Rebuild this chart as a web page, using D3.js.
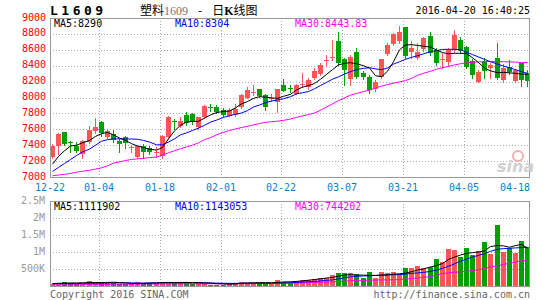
<!DOCTYPE html>
<html>
<head>
<meta charset="utf-8">
<script src="https://cdn.jsdelivr.net/npm/d3@7"></script>
<style>
body { margin: 0; background: #fff; }
text { font-family: "DejaVu Sans Mono", monospace; font-size: 10px; }
</style>
</head>
<body>
<svg id="chart" width="545" height="300"></svg>
<script>
// trading days
const dates = [
  "12-22","12-23","12-24","12-25","12-28","12-29","12-30","12-31",
  "01-04","01-05","01-06","01-07","01-08","01-11","01-12","01-13","01-14","01-15",
  "01-18","01-19","01-20","01-21","01-22","01-25","01-26","01-27","01-28","01-29",
  "02-01","02-02","02-03","02-04","02-05","02-15","02-16","02-17","02-18","02-19",
  "02-22","02-23","02-24","02-25","02-26","02-29","03-01","03-02","03-03","03-04",
  "03-07","03-08","03-09","03-10","03-11","03-14","03-15","03-16","03-17","03-18",
  "03-21","03-22","03-23","03-24","03-25","03-28","03-29","03-30","03-31","04-01",
  "04-05","04-06","04-07","04-08","04-11","04-12","04-13","04-14","04-15","04-18","04-19"
];

const openP = [7255,7394,7562,7440,7394,7290,7440,7578,7692,7507,7537,7453,7503,7360,7255,7390,7360,7305,7264,7500,
  7700,7641,7780,7795,7633,7760,7880,7880,7843,7771,7780,7880,7995,8055,8107,8031,7980,7947,8152,8120,
  8050,8165,8136,8241,8290,8465,8495,8714,8480,8233,8576,8304,8258,8110,8260,8545,8675,8711,8891,8576,
  8500,8606,8775,8600,8478,8447,8595,8720,8631,8463,8199,8463,8367,8493,8220,8388,8207,8430,8304];
const highP = [7411,7553,7570,7450,7444,7465,7645,7738,7700,7600,7591,7478,7520,7402,7400,7419,7394,7380,7530,7765,
  7735,7751,7820,7800,7760,7905,7914,7905,7864,7872,7914,8048,8136,8157,8110,8048,8040,8110,8229,8160,
  8165,8304,8240,8370,8430,8530,8723,8828,8500,8540,8618,8330,8280,8215,8490,8680,8810,8900,8891,8711,
  8680,8760,8830,8620,8555,8620,8845,8760,8650,8480,8340,8500,8430,8682,8420,8470,8360,8440,8350];
const lowP = [7239,7289,7400,7320,7310,7240,7430,7550,7520,7490,7436,7318,7368,7310,7240,7235,7293,7255,7245,7490,
  7600,7630,7660,7670,7600,7745,7834,7810,7767,7767,7771,7872,7989,8031,8006,7843,7960,7821,8080,8070,
  8040,8136,8110,8230,8280,8400,8472,8410,8157,8160,8240,8230,8053,8080,8250,8530,8660,8690,8500,8500,
  8480,8590,8540,8410,8375,8400,8570,8560,8370,8250,8190,8250,8250,8233,8200,8300,8190,8150,8140];
const closeP = [7394,7537,7411,7430,7327,7450,7591,7633,7553,7578,7461,7419,7428,7372,7394,7318,7310,7318,7516,7750,
  7690,7704,7675,7688,7751,7897,7870,7817,7780,7843,7855,8031,8094,8070,8014,7885,7995,8103,8085,8110,
  8155,8175,8220,8333,8409,8475,8505,8435,8346,8513,8262,8254,8100,8199,8485,8665,8795,8820,8526,8626,
  8576,8745,8566,8430,8484,8595,8786,8587,8387,8283,8325,8337,8409,8240,8367,8325,8346,8220,8210];

const ma5 = [7160,7260,7330,7390,7400,7430,7460,7510,7545,7560,7530,7490,7460,7420,7390,7370,7350,7338,7370,7480,
  7580,7650,7690,7700,7700,7740,7780,7810,7825,7830,7870,7920,7950,7990,8010,8005,7995,7990,8015,8040,
  8095,8130,8150,8175,8230,8290,8350,8410,8430,8438,8425,8400,8370,8274,8262,8330,8450,8600,8660,8665,
  8655,8645,8635,8597,8565,8550,8556,8556,8555,8500,8440,8370,8335,8312,8316,8310,8304,8295,8290];
const ma10 = [7070,7120,7170,7220,7270,7315,7350,7400,7450,7470,7480,7480,7478,7478,7475,7460,7440,7405,7405,7440,
  7480,7530,7555,7585,7615,7650,7690,7715,7750,7770,7790,7805,7835,7880,7905,7935,7955,7970,7985,8010,
  8045,8060,8075,8110,8150,8190,8230,8260,8295,8325,8350,8367,8375,8360,8350,8370,8420,8450,8480,8505,
  8525,8550,8575,8590,8605,8606,8606,8600,8570,8540,8510,8480,8450,8420,8395,8375,8350,8325,8304];
const ma30 = [7015,7025,7034,7045,7060,7072,7085,7100,7115,7140,7175,7190,7208,7220,7228,7235,7245,7252,7275,7305,
  7330,7355,7378,7400,7430,7470,7495,7530,7562,7585,7605,7622,7638,7655,7672,7688,7695,7702,7712,7730,
  7750,7768,7785,7805,7840,7880,7920,7960,7995,8030,8050,8075,8092,8120,8143,8162,8180,8195,8215,8240,
  8278,8305,8330,8355,8375,8390,8410,8425,8435,8442,8448,8450,8452,8452,8450,8448,8445,8440,8440];

const volume = [60,90,130,100,60,50,160,130,130,80,100,60,50,50,110,100,100,90,130,100,
  100,110,120,60,100,100,40,40,30,70,90,130,90,90,100,100,70,170,110,100,
  150,180,180,210,240,240,330,390,390,390,360,240,420,240,420,380,410,340,540,540,
  590,540,570,800,700,1100,1070,840,1130,900,1040,1290,930,1780,1000,1120,980,1320,1140].map(v => v * 1000);
const vma5 = [70,80,85,90,90,95,100,100,100,105,110,100,90,80,70,75,85,90,100,105,
  100,105,105,100,100,95,85,70,60,55,60,80,90,95,100,100,95,105,120,125,
  135,150,170,190,210,235,250,290,320,335,320,320,315,310,320,330,345,360,380,420,
  470,500,560,600,660,780,850,910,960,980,1000,1030,1160,1190,1180,1140,1190,1220,1112].map(v => v * 1000);
const vma10 = [65,68,70,72,75,78,80,82,85,88,90,92,92,90,88,88,90,92,95,95,
  95,95,95,95,92,90,88,85,80,78,78,80,82,82,80,80,82,85,90,95,
  105,115,125,135,150,165,180,210,240,270,285,295,300,310,318,325,330,335,350,370,
  385,400,430,470,520,580,650,730,790,850,900,950,1020,1080,1100,1110,1120,1130,1143].map(v => v * 1000);
const vma30 = [30,32,34,36,38,40,42,44,46,48,50,52,54,55,56,57,58,59,60,61,
  62,63,64,65,66,67,68,68,68,68,69,70,71,72,73,74,76,78,80,85,
  90,95,100,105,112,118,125,135,145,155,162,168,172,175,178,180,183,190,205,218,
  235,255,275,320,365,390,405,416,435,455,480,515,560,595,630,668,705,740,744].map(v => v * 1000);

const priceTicks = [7000,7200,7400,7600,7800,8000,8200,8400,8600,8800,9000];
const volTicks = [500000,1000000,1500000,2000000,2500000];
const volTickLabels = ["500K","1M","1.5M","2M","2.5M"];
const dateTicks = ["12-22","01-04","01-18","02-01","02-22","03-07","03-21","04-05","04-18"];
const gridDates = ["01-04","01-18","02-01","02-22","03-07","03-21","04-05"];

const priceLegend = [{ t: "MA5:8290", c: "#000" }, { t: "MA10:8304", c: "#0000ff" }, { t: "MA30:8443.83", c: "#ff00ff" }];
const volLegend = [{ t: "MA5:1111902", c: "#000" }, { t: "MA10:1143053", c: "#0000ff" }, { t: "MA30:744202", c: "#ff00ff" }];

const up = "#ff5555", down = "#00a000";
const left = 50, right = 530;
const pTop = 18, pBottom = 177, vTop = 201, vBottom = 286;

const svg = d3.select("#chart");

// scales
const x = d3.scaleBand().domain(dates).range([left, right]).paddingInner(0.18).paddingOuter(0);
const y = d3.scaleLinear().domain([7000, 9000]).range([pBottom, pTop]);
const yv = d3.scaleLinear().domain([0, 2500000]).range([vBottom, vTop]);
const bx = d => Math.round(x(d));
const cx = d => Math.round(x(d)) + 2.5;

// grids
function grid(yScale, ticks, y0, y1) {
  const g = svg.append("g").attr("stroke", "#aaa").attr("stroke-dasharray", "1,2").attr("shape-rendering", "crispEdges");
  g.selectAll(".h").data(ticks).enter().append("line")
    .attr("x1", left).attr("x2", right)
    .attr("y1", d => Math.round(yScale(d)) + 0.5).attr("y2", d => Math.round(yScale(d)) + 0.5);
  g.selectAll(".v").data(gridDates).enter().append("line")
    .attr("x1", d => bx(d) + 0.5).attr("x2", d => bx(d) + 0.5)
    .attr("y1", y0).attr("y2", y1);
}
grid(y, priceTicks.slice(1, -1), pTop, pBottom);
grid(yv, volTicks.slice(0, -1), vTop, vBottom);

// candles
const idx = d3.range(dates.length);
const candles = svg.append("g").attr("shape-rendering", "crispEdges");
candles.selectAll(".wick").data(idx).enter().append("line")
  .attr("x1", i => cx(dates[i])).attr("x2", i => cx(dates[i]))
  .attr("y1", i => Math.round(y(highP[i]))).attr("y2", i => Math.round(y(lowP[i])) + 1)
  .attr("stroke", i => closeP[i] >= openP[i] ? up : down);
candles.selectAll(".body").data(idx).enter().append("rect")
  .attr("x", i => bx(dates[i]))
  .attr("width", 5)
  .attr("y", i => Math.round(y(Math.max(openP[i], closeP[i]))))
  .attr("height", i => Math.max(1, Math.round(y(Math.min(openP[i], closeP[i]))) - Math.round(y(Math.max(openP[i], closeP[i])))))
  .attr("fill", i => closeP[i] >= openP[i] ? up : down);

// volume bars
svg.append("g").attr("shape-rendering", "crispEdges")
  .selectAll("rect").data(idx).enter().append("rect")
  .attr("x", i => bx(dates[i]))
  .attr("width", 5)
  .attr("y", i => Math.round(yv(volume[i])))
  .attr("height", i => vBottom - Math.round(yv(volume[i])))
  .attr("fill", i => closeP[i] >= openP[i] ? up : down);

// moving averages
function maLine(series, scale, color) {
  svg.append("path")
    .datum(series)
    .attr("fill", "none")
    .attr("stroke", color)
    .attr("stroke-width", 1)
    .attr("d", d3.line().x((d, i) => cx(dates[i])).y(d => scale(d)));
}
maLine(ma30, y, "#ff00ff");
maLine(ma10, y, "#0000ff");
maLine(ma5, y, "#000");
maLine(vma30, yv, "#ff00ff");
maLine(vma10, yv, "#0000ff");
maLine(vma5, yv, "#000");

// frames
svg.append("rect").attr("x", left + 0.5).attr("y", pTop + 0.5).attr("width", right - left - 1).attr("height", pBottom - pTop)
  .attr("fill", "none").attr("stroke", "#999").attr("shape-rendering", "crispEdges");
svg.append("rect").attr("x", left + 0.5).attr("y", vTop + 0.5).attr("width", right - left - 1).attr("height", vBottom - vTop)
  .attr("fill", "none").attr("stroke", "#999").attr("shape-rendering", "crispEdges");

// price axis
const pa = svg.append("g").attr("transform", `translate(${left},0)`)
  .call(d3.axisLeft(y).tickValues(priceTicks).tickSize(0).tickPadding(4).tickFormat(d3.format("d")));
pa.select(".domain").remove();
pa.selectAll("text").attr("fill", "#ff0000").attr("dy", "0.2em")
  .style("font-family", "DejaVu Sans Mono").style("font-size", "10px");

// volume axis
const va = svg.append("g").attr("transform", `translate(${left},0)`)
  .call(d3.axisLeft(yv).tickValues(volTicks).tickSize(0).tickPadding(5).tickFormat((d, i) => volTickLabels[i]));
va.select(".domain").remove();
va.selectAll("text").attr("fill", "#999").attr("dy", "0.2em")
  .style("font-family", "DejaVu Sans Mono").style("font-size", "10px");

// date labels
svg.selectAll(".date").data(dateTicks).enter().append("text")
  .attr("x", (d, i) => i === dateTicks.length - 1 ? right : bx(d))
  .attr("y", 191)
  .attr("text-anchor", (d, i) => i === dateTicks.length - 1 ? "end" : "middle")
  .attr("fill", "#0a7fd0")
  .text(d => d);

// legends
svg.selectAll(".pleg").data(priceLegend).enter().append("text")
  .attr("x", (d, i) => [54, 175, 295][i]).attr("y", 27)
  .attr("fill", d => d.c).text(d => d.t);
svg.selectAll(".vleg").data(volLegend).enter().append("text")
  .attr("x", (d, i) => [54, 175, 295][i]).attr("y", 210)
  .attr("fill", d => d.c).text(d => d.t);

// header
svg.append("text").attr("x", 50).attr("y", 14.5)
  .style("font-size", "13px").style("font-weight", "bold").style("letter-spacing", "3.5px")
  .text("L1609");
const title = svg.append("text").attr("x", 140).attr("y", 15)
  .style("font-family", "'Noto Sans CJK SC', sans-serif").style("font-size", "12px");
title.append("tspan").text("塑料");
title.append("tspan").attr("fill", "#777").style("font-family", "'Liberation Serif', serif").style("font-size", "12px").text("1609");
title.append("tspan").attr("dx", 10).text("-");
title.append("tspan").attr("dx", 10).text("日");
title.append("tspan").style("font-family", "'Liberation Serif', serif").style("font-weight", "bold").text("K");
title.append("tspan").text("线图");
svg.append("text").attr("x", right).attr("y", 14).attr("text-anchor", "end").text("2016-04-20 16:40:25");

// watermark
svg.append("text").attr("x", 497).attr("y", 172)
  .style("font-family", "'DejaVu Sans', sans-serif").style("font-size", "16px")
  .style("font-style", "italic").style("font-weight", "bold")
  .attr("fill", "#d0d0d0").text("sina");
svg.append("circle").attr("cx", 518).attr("cy", 156).attr("r", 5)
  .attr("fill", "none").attr("stroke", "#f2b0b0").attr("stroke-width", 2);

// footer
svg.append("text").attr("x", 50).attr("y", 298).attr("fill", "#666").text("Copyright 2016 SINA.COM");
svg.append("text").attr("x", right).attr("y", 298).attr("text-anchor", "end").attr("fill", "#666").text("http://finance.sina.com.cn");
</script>
</body>
</html>
